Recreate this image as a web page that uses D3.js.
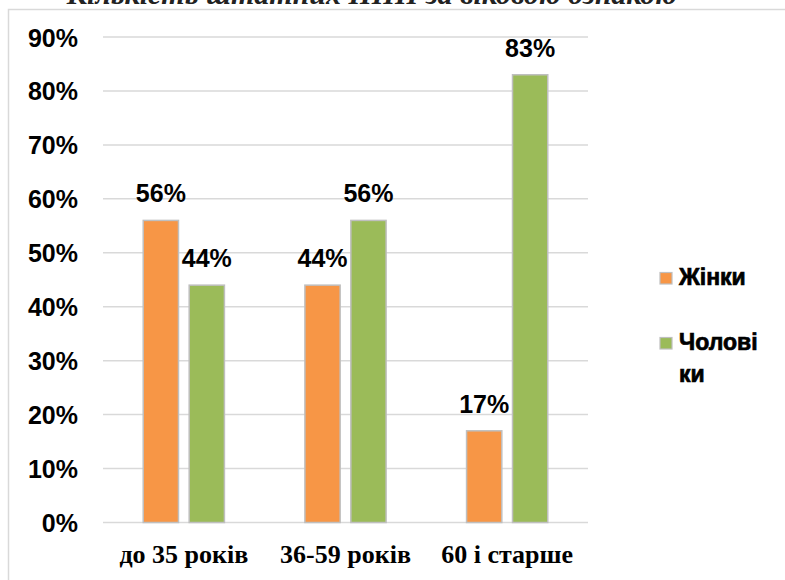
<!DOCTYPE html>
<html>
<head>
<meta charset="utf-8">
<script src="https://cdn.jsdelivr.net/npm/d3@7"></script>
<style>
  html, body { margin: 0; padding: 0; background: #fff; }
  svg { display: block; }
</style>
</head>
<body>
<svg id="chart" width="785" height="580"></svg>
<script>
// Age groups and the share of women / men in each
const categories = ["до 35 років", "36-59 років", "60 і старше"];
const seriesNames = ["Жінки", "Чоловіки"];
const women = [56, 44, 17];
const men = [44, 56, 83];
const yTicks = [0, 10, 20, 30, 40, 50, 60, 70, 80, 90];
const title = "Кількість штатних НПП за віковою ознакою";

const colors = ["#F79646", "#9BBB59"];
const series = [women, men];

const svg = d3.select("#chart");

// outer frame
svg.append("rect")
  .attr("x", 8.5).attr("y", 9.5)
  .attr("width", 800).attr("height", 600)
  .attr("fill", "none").attr("stroke", "#d9d9d9").attr("stroke-width", 1.5);

// title (sits partly above the top edge)
svg.append("text")
  .attr("x", 372).attr("y", 4)
  .attr("text-anchor", "middle")
  .attr("font-family", "'Liberation Serif', 'Times New Roman', serif")
  .attr("font-weight", "bold").attr("font-style", "italic")
  .attr("font-size", 30)
  .attr("fill", "#222")
  .text(title);

const x0 = d3.scaleBand().domain(categories).range([103, 588]);
const x1 = d3.scaleBand().domain(seriesNames).range([0, 82.7]).paddingInner(0.2);
const y = d3.scaleLinear().domain([0, 90]).range([522.5, 37]);

// gridlines
svg.append("g")
  .selectAll("line")
  .data(yTicks)
  .join("line")
  .attr("x1", 103).attr("x2", 588)
  .attr("y1", d => y(d)).attr("y2", d => y(d))
  .attr("stroke", "#d9d9d9").attr("stroke-width", 1.5);

// y axis labels
const yAxis = d3.axisLeft(y).tickValues(yTicks).tickFormat(d => d + "%").tickSize(0).tickPadding(0);
const yg = svg.append("g").attr("transform", "translate(78,0)").call(yAxis);
yg.select(".domain").remove();
yg.selectAll("text")
  .attr("font-family", "'Liberation Sans', Arial, sans-serif")
  .attr("font-weight", "bold").attr("font-size", 25)
  .attr("fill", "#000").attr("dy", "0.36em");

// category labels
const xAxis = d3.axisBottom(x0).tickSize(0).tickPadding(0);
const xg = svg.append("g").attr("transform", "translate(0,563)").call(xAxis);
xg.select(".domain").remove();
xg.selectAll("text")
  .attr("font-family", "'Liberation Serif', 'Times New Roman', serif")
  .attr("font-weight", "bold").attr("font-size", 26)
  .attr("fill", "#000").attr("dy", 0);

// bars
const groupOffset = (x0.bandwidth() - 82.7) / 2;
const groups = svg.append("g")
  .selectAll("g")
  .data(categories)
  .join("g")
  .attr("transform", d => `translate(${x0(d) + groupOffset},0)`);

groups.each(function(cat, ci) {
  const g = d3.select(this);
  seriesNames.forEach((s, si) => {
    const v = series[si][ci];
    g.append("rect")
      .attr("x", x1(s) + 0.75)
      .attr("y", y(v))
      .attr("width", x1.bandwidth() - 1.5)
      .attr("height", y(0) - y(v))
      .attr("fill", colors[si])
      .attr("stroke", "#bfbfbf").attr("stroke-width", 1.5);
    g.append("text")
      .attr("x", x1(s) + x1.bandwidth() / 2)
      .attr("y", y(v) - 18)
      .attr("text-anchor", "middle")
      .attr("font-family", "'Liberation Sans', Arial, sans-serif")
      .attr("font-weight", "bold").attr("font-size", 25)
      .attr("fill", "#000")
      .text(v + "%");
  });
});

// legend
const legend = svg.append("g");
const legendRows = [
  { lines: ["Жінки"], y: 285 },
  { lines: ["Чолові", "ки"], y: 350 }
];
legendRows.forEach((r, i) => {
  legend.append("rect")
    .attr("x", 660).attr("y", r.y - 12.5)
    .attr("width", 12).attr("height", 11.5)
    .attr("fill", colors[i]).attr("stroke", "#bfbfbf").attr("stroke-width", 1.2);
  const t = legend.append("text")
    .attr("x", 679).attr("y", r.y)
    .attr("font-family", "'Liberation Sans', Arial, sans-serif")
    .style("font-weight", "700").attr("font-size", 23)
    .attr("fill", "#000")
    .attr("stroke", "#000").attr("stroke-width", 0.7);
  r.lines.forEach((ln, li) => {
    t.append("tspan").attr("x", 679).attr("dy", li === 0 ? 0 : 32).text(ln);
  });
});
</script>
</body>
</html>
